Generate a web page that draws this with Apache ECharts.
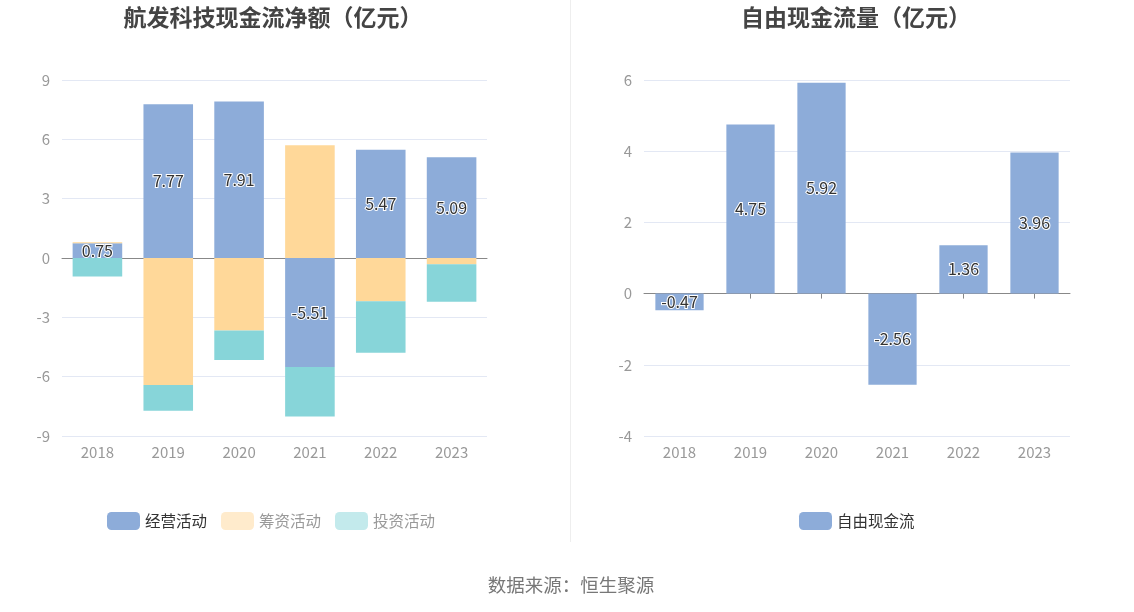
<!DOCTYPE html>
<html><head><meta charset="utf-8">
<script src="https://cdn.jsdelivr.net/npm/echarts@6/dist/echarts.min.js"></script>
<style>html,body{margin:0;padding:0;background:#fff}#c{width:1134px;height:612px}</style>
</head><body><div id="c"></div>
<script>
const years = ['2018','2019','2020','2021','2022','2023'];
const operating = [0.75, 7.77, 7.91, -5.51, 5.47, 5.09];
const financing = [0.05, -6.42, -3.66, 5.70, -2.19, -0.32];
const investing = [-0.94, -1.30, -1.50, -2.51, -2.60, -1.89];
const freeCash = [-0.47, 4.75, 5.92, -2.56, 1.36, 3.96];
const leftTicks = {min: -9, max: 9, interval: 3};
const rightTicks = {min: -4, max: 6, interval: 2};

const FONT = '"Noto Sans CJK SC", "Noto Sans", sans-serif';
const C_OP = '#8DACD9', C_FIN = '#FFD899', C_INV = '#87D5D9';
const labelStyle = {show: true, position: 'inside', color: '#333', fontSize: 16, fontFamily: FONT,
  textBorderColor: '#fff', textBorderWidth: 2, formatter: p => p.value.toFixed(2)};
const axisLabel = {color: '#999', fontSize: 15, fontFamily: FONT};
const splitLine = {lineStyle: {color: '#E3E8F4'}};

function zeroAxis(g) {
  return {type: 'category', gridIndex: g, data: years,
    axisLine: {onZero: true, lineStyle: {color: '#888'}},
    axisTick: {show: true, alignWithLabel: true, lineStyle: {color: '#888'}},
    axisLabel: {show: false}};
}
function labelAxis(g) {
  return {type: 'category', gridIndex: g, data: years, position: 'bottom',
    axisLine: {show: false, onZero: false}, axisTick: {show: false},
    axisLabel: Object.assign({margin: 9}, axisLabel)};
}

const chart = echarts.init(document.getElementById('c'));
chart.setOption({
  animation: false,
  textStyle: {fontFamily: FONT},
  title: [
    {text: '航发科技现金流净额（亿元）', left: 268, top: 1, textAlign: 'center',
     textStyle: {fontSize: 23, fontWeight: 'bold', color: '#444', fontFamily: FONT}},
    {text: '自由现金流量（亿元）', left: 851, top: 1, textAlign: 'center',
     textStyle: {fontSize: 23, fontWeight: 'bold', color: '#444', fontFamily: FONT}},
    {text: '数据来源：恒生聚源', left: 566, top: 571, textAlign: 'center',
     textStyle: {fontSize: 18.5, fontWeight: 'normal', color: '#777', fontFamily: FONT}}
  ],
  graphic: [{type: 'line', shape: {x1: 570.5, y1: 0, x2: 570.5, y2: 542}, style: {stroke: '#EEEEEE', lineWidth: 1}}],
  legend: [
    {left: 102, top: 507, itemWidth: 33, itemHeight: 18, itemGap: 14, icon: 'roundRect',
     textStyle: {fontSize: 15.5, color: '#333', fontFamily: FONT},
     data: [
       {name: '经营活动', itemStyle: {color: C_OP}, textStyle: {color: '#333'}},
       {name: '筹资活动', itemStyle: {color: '#FFEBCC'}, textStyle: {color: '#999'}},
       {name: '投资活动', itemStyle: {color: '#C3EAEC'}, textStyle: {color: '#999'}}
     ]},
    {left: 794, top: 507, itemWidth: 33, itemHeight: 18, icon: 'roundRect',
     textStyle: {fontSize: 15.5, color: '#333', fontFamily: FONT},
     data: [{name: '自由现金流', itemStyle: {color: C_OP}}]}
  ],
  grid: [
    {left: 62, right: 1134 - 487, top: 80, bottom: 176, outerBoundsMode: 'none', containLabel: false},
    {left: 644, right: 1134 - 1070, top: 80, bottom: 176, outerBoundsMode: 'none', containLabel: false}
  ],
  xAxis: [zeroAxis(0), labelAxis(0), zeroAxis(1), labelAxis(1)],
  yAxis: [
    {type: 'value', gridIndex: 0, min: leftTicks.min, max: leftTicks.max, interval: leftTicks.interval,
     axisLabel: Object.assign({margin: 12}, axisLabel), splitLine, axisLine: {show: false}, axisTick: {show: false}},
    {type: 'value', gridIndex: 1, min: rightTicks.min, max: rightTicks.max, interval: rightTicks.interval,
     axisLabel: Object.assign({margin: 12}, axisLabel), splitLine, axisLine: {show: false}, axisTick: {show: false}}
  ],
  series: [
    {name: '经营活动', type: 'bar', stack: 'cf', xAxisIndex: 0, yAxisIndex: 0, data: operating,
     barWidth: '70%', itemStyle: {color: C_OP}, label: labelStyle},
    {name: '筹资活动', type: 'bar', stack: 'cf', xAxisIndex: 0, yAxisIndex: 0, data: financing,
     barWidth: '70%', itemStyle: {color: C_FIN}},
    {name: '投资活动', type: 'bar', stack: 'cf', xAxisIndex: 0, yAxisIndex: 0, data: investing,
     barWidth: '70%', itemStyle: {color: C_INV}},
    {name: '自由现金流', type: 'bar', xAxisIndex: 2, yAxisIndex: 1, data: freeCash,
     barWidth: '68%', itemStyle: {color: C_OP}, label: labelStyle}
  ]
});
</script></body></html>
